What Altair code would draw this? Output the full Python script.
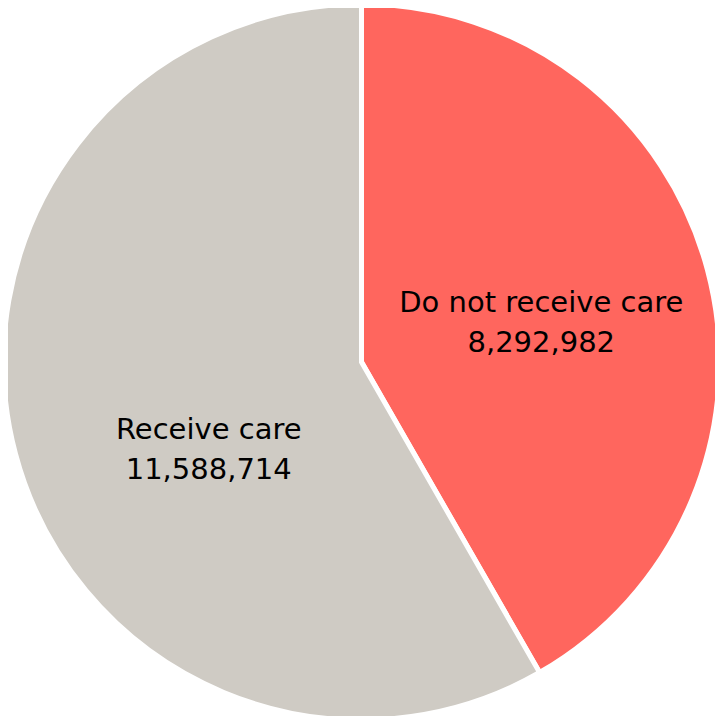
import altair as alt
import pandas as pd

categories = ["Do not receive care", "Receive care"]
values = [8292982, 11588714]
order_idx = [0, 1]
colors = ["#FF665E", "#CFCBC4"]

df = pd.DataFrame({"category": categories, "value": values, "idx": order_idx})

W, H = 707, 708
CX, CY, R = 353.5, 354, 358

pie = alt.Chart(df).mark_arc(stroke="white", strokeWidth=5, outerRadius=R).encode(
    theta=alt.Theta("value:Q", stack=True),
    order=alt.Order("idx:Q"),
    color=alt.Color("category:N", scale=alt.Scale(domain=categories, range=colors), legend=None),
    x=alt.value(CX),
    y=alt.value(CY),
)

text_base = alt.Chart(df).transform_stack(
    stack="value", groupby=[], as_=["v0", "v1"], sort=[alt.SortField("idx")]
).transform_calculate(
    mid="(datum.v0 + datum.v1) / 2",
    label="[datum.category, format(datum.value, ',')]",
).encode(
    theta=alt.Theta("mid:Q", stack=None),
    text="label:N",
    x=alt.value(CX),
    y=alt.value(CY),
)

txt_style = dict(radius=185, font="DejaVu Sans", fontSize=29, color="black",
                 lineHeight=40, baseline="middle", align="center")

label_red = text_base.mark_text(dx=1, dy=-11, **txt_style).transform_filter(alt.datum.idx == 0)
label_gray = text_base.mark_text(dx=26, dy=20, **txt_style).transform_filter(alt.datum.idx == 1)

chart = alt.layer(pie, label_red, label_gray).properties(
    width=W, height=H, autosize="none", padding=0
).configure_view(strokeWidth=0)

chart.save("out.html", embed_options={"renderer": "svg", "actions": False})
